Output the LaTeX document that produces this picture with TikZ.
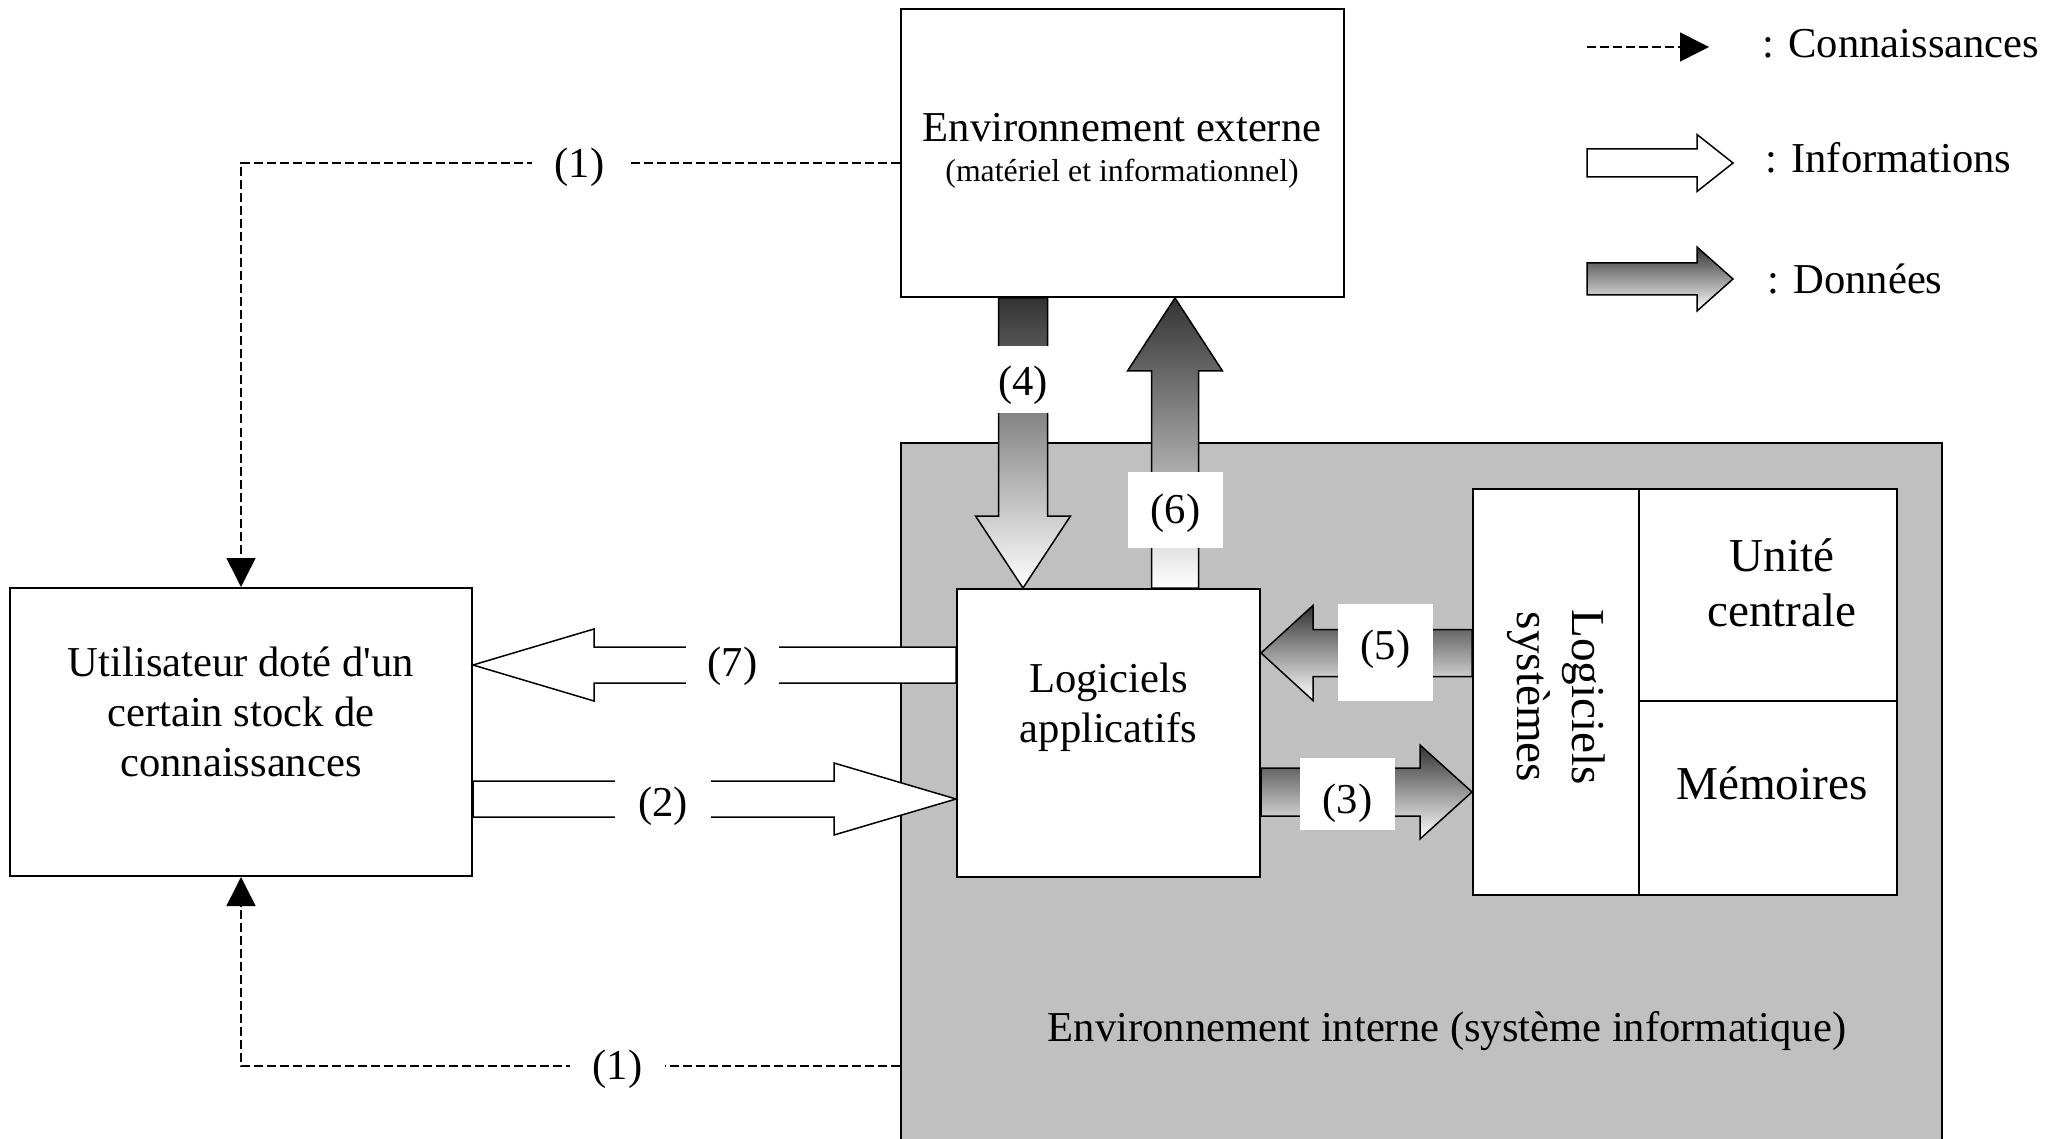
\documentclass[tikz,border=0pt]{standalone}
\usepackage{fontspec}
\setmainfont{Liberation Serif}
\usetikzlibrary{calc,arrows.meta}
\definecolor{panelgrey}{HTML}{C0C0C0}

% Block arrow outline from #2 to #3: #4 half shaft width, #5 half head width, #6 head length
\newcommand\blockarrow[6][]{%
  \coordinate (bas) at (#2);
  \coordinate (bae) at (#3);
  \coordinate (bah) at ($(bae)!#6!(bas)$);
  \path[#1] ($(bas)!#4!90:(bae)$) -- ($(bah)!#4!-90:(bas)$) -- ($(bah)!#5!-90:(bas)$)
    -- (bae) -- ($(bah)!#5!90:(bas)$) -- ($(bah)!#4!90:(bas)$) -- ($(bas)!#4!-90:(bae)$) -- cycle;
}
% flow number, lowered by #1 inside its white box
\newcommand\numtxt[2]{\raisebox{#1}[0.7em][0.22em]{#2}}

\begin{document}
\begin{tikzpicture}[x=0.5pt,y=-0.5pt,
  font=\fontsize{21.3}{25}\selectfont,
  box/.style={draw, fill=white, line width=1pt, inner sep=0pt},
  panel/.style={draw, fill=panelgrey, line width=1pt, inner sep=0pt},
  big/.style={font=\fontsize{23.6}{27.5}\selectfont},
  small/.style={font=\fontsize{15.9}{19}\selectfont},
  info/.style={draw, fill=white, line width=0.75pt, line join=miter},
  data/.style={draw, top color=black!80, bottom color=white, line width=0.75pt, line join=miter},
  know/.style={line width=0.75pt, dash pattern=on 4.5pt off 2pt,
    -{Triangle[length=14.5pt,width=14.5pt]}},
  numlab/.style={fill=white, inner sep=0pt, minimum width=47.5pt},
  legtxt/.style={anchor=base west, inner sep=0pt}]

\useasboundingbox (0,0) rectangle (2063,1139);
\clip (0,0) rectangle (2063,1139);

% containers and blocks
\node[panel, minimum width=520.5pt, minimum height=353.5pt] (inner) at (1421.5,796.5) {};
\node[box, minimum width=221.5pt, minimum height=144pt] (env) at (1122,153) {};
\node[box, minimum width=231pt, minimum height=144pt] (user) at (241,732) {};
\node[box, minimum width=151.5pt, minimum height=144pt] (app) at (1108.5,733) {};
\node[box, minimum width=212pt, minimum height=203pt] (sys) at (1685,692) {};

% partitions of the hardware block
\coordinate (cdiv) at (1639,701);
\draw[line width=1pt] (sys.north -| cdiv) -- (sys.south -| cdiv);
\draw[line width=1pt] (cdiv) -- (sys.east |- cdiv);

% knowledge flows (1)
\coordinate (k1) at (579.5,163);
\coordinate (k2) at (617.5,1066);
\draw[know] (env.west |- k1) -- (k1) -| (user.north);
\draw[know] (inner.west |- k2) -- (k2) -| (user.south);
\node[numlab, minimum height=24pt] (l1a) at (k1) {\numtxt{-2.25pt}{(1)}};
\node[numlab, minimum height=24pt] (l1b) at (k2) {\numtxt{-1.5pt}{(1)}};

% information flows
\coordinate (c7) at (0,665);
\coordinate (c2) at (0,799);
\blockarrow[info]{app.west |- c7}{user.east |- c7}{9pt}{18pt}{60.5pt}
\blockarrow[info]{user.east |- c2}{app.west |- c2}{9pt}{18pt}{61pt}
\node[numlab, minimum width=46.5pt, minimum height=24pt] (l7) at (732.5,665) {\numtxt{-0.5pt}{(7)}};
\node[numlab, minimum width=48pt, minimum height=24pt] (l2) at (663,799) {\numtxt{-3.5pt}{(2)}};

% data flows
\coordinate (c4) at (1023,0);
\coordinate (c6) at (1175,0);
\coordinate (c5) at (0,653);
\coordinate (c3) at (0,792);
\blockarrow[data]{c4 |- env.south}{c4 |- app.north}{12.25pt}{23.75pt}{36pt}
\blockarrow[data]{c6 |- app.north}{c6 |- env.south}{11.75pt}{23.75pt}{36.5pt}
\blockarrow[data]{sys.west |- c5}{app.east |- c5}{11.75pt}{23.75pt}{26pt}
\blockarrow[data]{app.east |- c3}{sys.west |- c3}{12pt}{23.5pt}{26pt}
\node[numlab, minimum height=33.5pt] (l4) at (1023,380) {\numtxt{-2.5pt}{(4)}};
\node[numlab, minimum height=38pt] (l6) at (1175.5,510) {\numtxt{-1.5pt}{(6)}};
\node[numlab, minimum height=48.5pt] (l5) at (1385.5,652.5) {\numtxt{1.5pt}{(5)}};
\node[numlab, minimum height=36pt] (l3) at (1347.5,794) {\numtxt{-4.5pt}{(3)}};

% texts
\node[align=center] (tuser) at (241,712) {Utilisateur doté d\textquotesingle un\\certain stock de\\connaissances};
\node (tenv) at (1122,128) {Environnement externe};
\node[small] (tenv2) at (1122,174) {(matériel et informationnel)};
\node[align=center] (tapp) at (1108.5,707) {Logiciels\\applicatifs};
\node[big, align=center] (tcpu) at (1782,583) {Unité\\centrale};
\node[big] (tmem) at (1772,783) {Mémoires};
\node[big, align=center, rotate=-90] (tsys) at (1556,697) {Logiciels\\systèmes};
\node (tinner) at (1447,1031) {Environnement interne (système informatique)};

% legend
\coordinate (lga) at (1587,47);
\coordinate (lgb) at (1709,47);
\draw[know] (lga) -- (lgb);
\coordinate (lgc) at (1587,163);
\coordinate (lgd) at (1733,163);
\blockarrow[info]{lgc}{lgd}{7pt}{14.25pt}{18pt}
\coordinate (lge) at (1587,279);
\coordinate (lgf) at (1733,279);
\blockarrow[data]{lge}{lgf}{8pt}{16pt}{18pt}
\node[legtxt] (lt1) at (1762,58) {: Connaissances};
\node[legtxt] (lt2) at (1765,173) {: Informations};
\node[legtxt] (lt3) at (1767,294) {: Données};
\end{tikzpicture}
\end{document}
